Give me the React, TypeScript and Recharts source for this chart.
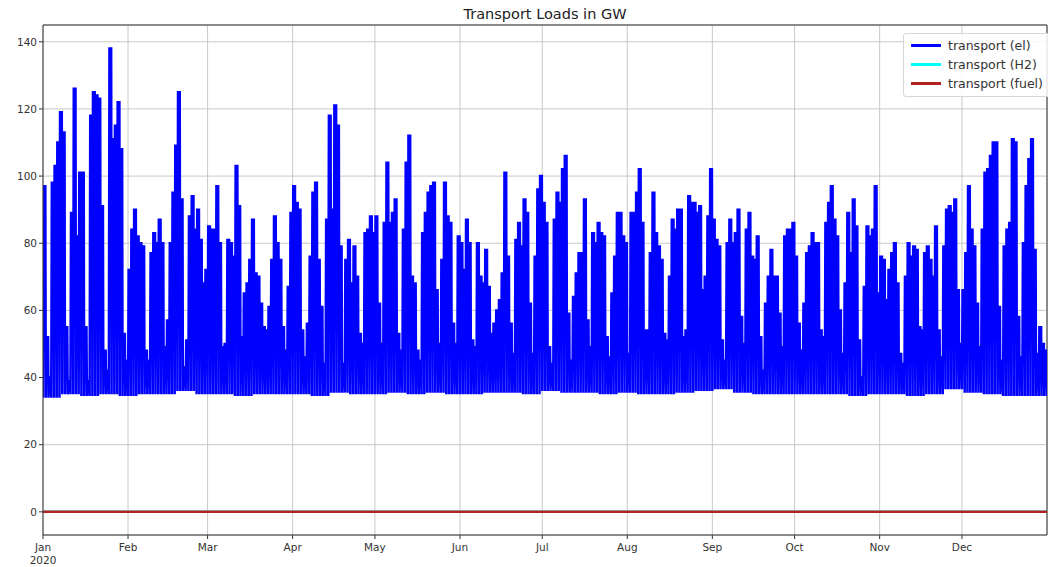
import { CartesianGrid, Line, LineChart, ReferenceLine, XAxis, YAxis } from "recharts";

// daily peak of the electric transport load (GW)
const janPeaks = [97, 52, 40, 98, 103, 110, 119, 113, 55, 39, 89, 126, 82, 101, 101, 55, 39, 118, 125, 124, 123, 91, 48, 42, 138, 111, 115, 122, 108, 53, 45];
const febPeaks = [72, 84, 90, 82, 80, 79, 48, 45, 77, 83, 80, 87, 80, 49, 57, 80, 95, 109, 125, 93, 43, 51, 88, 94, 84, 90, 81, 68, 72];
const marPeaks = [85, 84, 84, 97, 80, 49, 50, 81, 80, 76, 103, 91, 52, 65, 68, 75, 87, 71, 70, 62, 55, 54, 61, 75, 88, 80, 75, 55, 48, 67, 89];
const aprPeaks = [97, 92, 90, 54, 46, 56, 76, 95, 98, 75, 61, 44, 87, 118, 90, 121, 115, 79, 44, 75, 81, 68, 79, 70, 53, 50, 83, 84, 88, 83];
const mayPeaks = [88, 62, 50, 86, 104, 86, 89, 93, 53, 48, 84, 104, 112, 70, 68, 48, 45, 83, 89, 95, 97, 98, 66, 50, 75, 98, 88, 86, 56, 50, 82];
const junPeaks = [80, 72, 87, 80, 51, 49, 80, 70, 68, 78, 67, 53, 56, 60, 63, 71, 101, 76, 56, 47, 81, 86, 79, 93, 89, 62, 47, 76, 96, 100];
const julPeaks = [92, 86, 49, 44, 87, 95, 92, 102, 106, 59, 45, 64, 71, 77, 77, 93, 57, 49, 83, 80, 86, 83, 82, 52, 46, 65, 76, 89, 89, 82, 80];
const augPeaks = [47, 89, 89, 95, 102, 86, 54, 54, 77, 95, 83, 79, 75, 53, 51, 70, 87, 84, 90, 90, 52, 54, 94, 92, 92, 89, 91, 66, 70, 88, 102];
const sepPeaks = [87, 81, 79, 51, 45, 80, 87, 80, 83, 90, 58, 50, 84, 89, 76, 75, 82, 52, 42, 62, 70, 78, 70, 70, 59, 49, 82, 84, 84, 86];
const octPeaks = [76, 56, 48, 62, 77, 79, 83, 80, 80, 54, 52, 86, 92, 97, 87, 82, 60, 47, 68, 89, 77, 93, 85, 51, 40, 67, 85, 82, 84, 97, 65];
const novPeaks = [76, 75, 63, 72, 77, 80, 68, 47, 44, 70, 80, 76, 79, 78, 55, 54, 77, 79, 75, 70, 85, 54, 46, 79, 90, 91, 89, 93, 66, 50];
const decPeaks = [66, 77, 97, 84, 79, 62, 49, 84, 101, 102, 106, 110, 110, 61, 45, 79, 84, 86, 111, 110, 58, 46, 80, 97, 105, 111, 78, 47, 55, 50, 48];

// night-time base load per week (GW)
const weeklyLow = [
  34, 35, 34.5, 35, 34.5, 35, 35, 36, 35, 35, 34.5, 35, 35, 35, 34.5, 35.5, 35, 35, 35.5, 35, 35.5, 35, 35, 35.5, 35.5, 35,
  36, 35.5, 35.5, 35, 35.5, 35, 35, 35.5, 36, 36.5, 35.5, 35, 35, 35, 35, 35, 34.5, 35, 35, 34.5, 35, 36.5, 35.5, 35, 34.5,
  34.5, 34.5,
];

const h2Load = 0;
const fuelLoad = 0;

const monthNames = ["Jan", "Feb", "Mar", "Apr", "May", "Jun", "Jul", "Aug", "Sep", "Oct", "Nov", "Dec"];
const monthStarts = [0, 31, 60, 91, 121, 152, 182, 213, 244, 274, 305, 335];
const yTicks = [0, 20, 40, 60, 80, 100, 120, 140];

const series = [
  { key: "el", name: "transport (el)", color: "#0000ff" },
  { key: "h2", name: "transport (H2)", color: "#00ffff" },
  { key: "fuel", name: "transport (fuel)", color: "#b22222" },
];

const dailyPeak = [
  ...janPeaks, ...febPeaks, ...marPeaks, ...aprPeaks, ...mayPeaks, ...junPeaks,
  ...julPeaks, ...augPeaks, ...sepPeaks, ...octPeaks, ...novPeaks, ...decPeaks,
];

// each day: short dip at night, high from morning to evening
const rows: { t: number; el: number; h2: number; fuel: number }[] = [];
dailyPeak.forEach((peak, d) => {
  const low = weeklyLow[Math.floor(d / 7)];
  rows.push({ t: d, el: low, h2: h2Load, fuel: fuelLoad });
  rows.push({ t: d + 0.22, el: peak, h2: h2Load, fuel: fuelLoad });
  rows.push({ t: d + 0.85, el: peak, h2: h2Load, fuel: fuelLoad });
});
rows.push({ t: dailyPeak.length, el: weeklyLow[weeklyLow.length - 1], h2: h2Load, fuel: fuelLoad });

const font = "'DejaVu Sans', sans-serif";

function MonthTick(props: any) {
  const { x, y, payload } = props;
  const i = monthStarts.indexOf(payload.value);
  return (
    <g transform={`translate(${x},${y})`}>
      <text textAnchor="middle" fill="#333" fontSize={10.5} fontFamily={font}>
        <tspan x={0} dy={10}>{monthNames[i]}</tspan>
        {i === 0 && <tspan x={0} dy={13}>2020</tspan>}
      </text>
    </g>
  );
}

function LegendBox() {
  return (
    <div
      style={{
        position: "absolute",
        left: 903,
        top: 33,
        border: "1px solid #d6d6d6",
        borderRadius: 3,
        background: "rgba(255,255,255,0.85)",
        padding: "2px 6px 3px 7px",
        fontFamily: font,
        fontSize: 12.5,
        color: "#333",
        whiteSpace: "nowrap",
      }}
    >
      {series.map((s) => (
        <div key={s.key} style={{ display: "flex", alignItems: "center", height: 19 }}>
          <span style={{ display: "inline-block", width: 30, height: 3, background: s.color, marginRight: 7 }} />
          <span>{s.name}</span>
        </div>
      ))}
    </div>
  );
}

export default function App() {
  return (
    <div style={{ position: "absolute", left: 0, top: 0, width: 1048, height: 567, background: "#fff" }}>
      <div
        style={{
          position: "absolute",
          left: 43,
          top: 6,
          width: 1004,
          textAlign: "center",
          fontFamily: font,
          fontSize: 14.5,
          color: "#222",
        }}
      >
        Transport Loads in GW
      </div>
      <LineChart width={1048} height={567} data={rows} margin={{ top: 25, right: 1, left: 0, bottom: 0 }}>
        <CartesianGrid stroke="#c8c8c8" strokeWidth={1} />
        <XAxis
          dataKey="t"
          type="number"
          domain={[0, 366]}
          ticks={monthStarts}
          interval={0}
          tick={<MonthTick />}
          tickSize={4}
          height={32}
          stroke="#333"
          allowDataOverflow
        />
        <YAxis
          type="number"
          domain={[-6.9, 145]}
          ticks={yTicks}
          interval={0}
          tickSize={4}
          width={43}
          stroke="#333"
          tick={{ fill: "#333", fontSize: 10.5, fontFamily: font }}
          allowDataOverflow
        />
        <ReferenceLine y={145} stroke="#333" />
        <ReferenceLine x={366} stroke="#333" />
        {series.map((s) => (
          <Line
            key={s.key}
            dataKey={s.key}
            name={s.name}
            stroke={s.color}
            strokeWidth={2.5}
            dot={false}
            activeDot={false}
            isAnimationActive={false}
          />
        ))}
      </LineChart>
      <LegendBox />
    </div>
  );
}
